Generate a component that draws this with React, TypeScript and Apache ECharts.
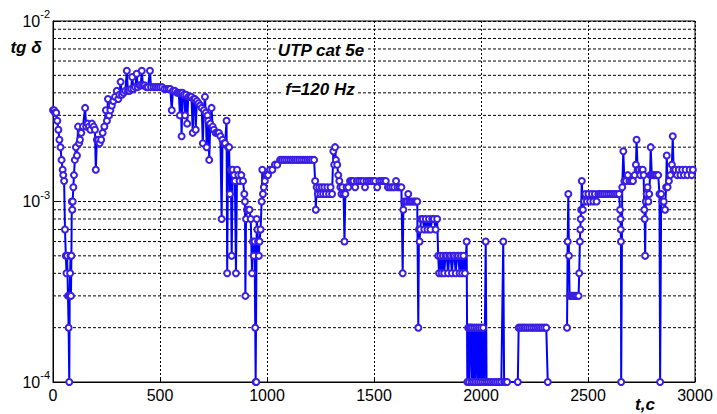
import React, { useEffect, useRef } from "react";
import * as echarts from "echarts";

const FONT = '"Liberation Sans", Arial, Helvetica, sans-serif';

// tg δ readings, [t in s, tg δ in units of 1e-3]
const segStart: number[][] = [
  [0, 3.2], [5, 3.2], [10, 3.1], [15, 3.1], [20, 2.8], [25, 2.5], [30, 2.2], [35, 2.0], [40, 1.7], [45, 1.5],
  [48, 1.4], [52, 1.3], [56, 0.7], [60, 0.5], [63, 0.4], [66, 0.5], [70, 0.3], [73, 0.2], [76, 0.1], [78, 0.3],
  [80, 0.4], [82, 0.5], [84, 0.3], [86, 0.5], [88, 1.0], [90, 0.9], [92, 1.0], [95, 1.2], [98, 1.4], [102, 1.7],
  [107, 2.0], [112, 1.8], [117, 2.6], [122, 2.1], [126, 2.2], [132, 2.4], [140, 2.6], [150, 3.3], [155, 2.6],
  [162, 2.7], [168, 2.6], [175, 2.5], [182, 2.7], [190, 2.6], [196, 2.5], [200, 1.5],
];

const segPeak: number[][] = [
  [205, 2.2], [212, 2.2], [218, 2.1], [225, 2.2], [232, 2.4], [240, 2.6], [247, 3.2], [252, 2.8], [257, 3.7],
  [262, 3.0], [268, 3.2], [275, 3.4], [282, 3.6], [290, 3.8], [298, 4.1], [305, 3.7], [310, 3.9], [316, 4.6],
  [322, 3.9], [330, 4.0], [338, 4.1], [345, 5.3], [350, 4.1], [358, 4.1], [365, 4.2], [370, 4.9], [376, 4.2],
  [384, 4.3], [391, 5.1], [396, 4.3], [404, 4.4], [410, 4.4], [415, 5.3], [420, 4.4], [428, 4.4], [436, 4.3],
  [444, 4.3], [453, 5.3], [458, 4.3], [470, 4.3], [480, 4.3], [490, 4.3], [500, 4.3], [510, 4.3], [520, 4.2],
  [530, 4.2], [540, 4.2], [548, 4.2],
];

const segFall: number[][] = [
  [555, 3.2], [560, 4.1], [570, 4.1], [580, 4.0], [588, 4.0], [593, 3.0], [597, 4.0], [601, 2.3], [605, 4.0],
  [612, 3.9], [617, 3.0], [622, 3.9], [627, 2.7], [632, 3.8], [640, 3.8], [647, 3.8], [653, 2.4], [657, 3.7],
  [663, 3.7], [667, 2.5], [672, 3.6], [680, 3.5], [688, 3.4], [695, 3.3], [700, 2.1], [705, 3.2], [710, 3.8],
  [714, 3.1], [718, 2.0], [722, 3.0], [726, 2.8], [730, 1.7], [735, 2.7], [741, 3.3], [746, 2.6], [752, 2.5],
  [760, 2.4], [768, 2.4], [775, 2.4], [782, 2.3], [788, 0.8], [792, 2.2], [798, 2.1], [804, 2.1], [811, 2.8],
  [814, 0.4], [818, 2.0], [823, 2.0], [827, 1.1], [831, 1.5], [835, 0.5], [840, 1.5], [846, 1.4], [850, 1.3],
  [855, 0.4], [860, 1.5], [866, 1.4], [872, 1.3], [880, 1.4], [888, 1.3], [894, 1.1], [897, 1.0], [899, 0.3],
  [902, 0.8], [906, 0.9], [912, 0.9], [918, 0.9], [924, 0.8], [930, 0.4], [934, 0.6], [938, 0.5], [942, 0.6],
  [945, 0.2], [947, 0.1], [950, 0.1], [952, 0.8], [955, 0.7], [958, 0.6], [962, 0.5], [965, 0.6], [970, 0.7],
  [975, 1.0], [978, 1.5], [981, 1.1], [985, 1.2], [990, 1.3], [998, 1.4],
];

const segPlateau: number[][] = [
  [1005, 1.4], [1014, 1.5], [1025, 1.5], [1037, 1.6], [1048, 1.6], [1061, 1.7], [1070, 1.7], [1080, 1.7],
  [1090, 1.7], [1100, 1.7], [1110, 1.7], [1120, 1.7], [1130, 1.7], [1140, 1.7], [1150, 1.7], [1160, 1.7],
  [1170, 1.7], [1180, 1.7], [1190, 1.7], [1200, 1.7], [1210, 1.7], [1220, 1.7], [1225, 1.3], [1228, 0.9],
  [1232, 1.2], [1238, 1.1], [1244, 1.2], [1250, 1.1], [1256, 1.2], [1262, 1.1], [1268, 1.2], [1275, 1.1],
  [1282, 1.2], [1290, 1.1], [1297, 1.2], [1304, 1.1], [1310, 1.9], [1314, 1.6], [1318, 2.0], [1322, 1.7],
  [1328, 1.6], [1333, 1.4], [1338, 1.3], [1343, 1.2], [1348, 1.1], [1352, 1.2], [1358, 1.1], [1362, 0.6],
  [1366, 1.1], [1372, 1.2], [1380, 1.2], [1388, 1.3], [1396, 1.3], [1404, 1.3], [1412, 1.2], [1420, 1.3],
  [1430, 1.3], [1440, 1.3], [1450, 1.3], [1458, 1.2], [1465, 1.3], [1475, 1.3], [1485, 1.3], [1495, 1.3],
  [1505, 1.3], [1515, 1.2], [1525, 1.3], [1535, 1.3], [1545, 1.3], [1555, 1.3], [1565, 1.2], [1575, 1.2],
  [1585, 1.2], [1595, 1.2], [1603, 1.3], [1610, 1.2], [1620, 1.2], [1628, 1.2],
];

const segLow: number[][] = [
  [1634, 0.4], [1637, 0.9], [1641, 1.0], [1648, 1.0], [1655, 1.0], [1660, 1.1], [1665, 1.0], [1672, 1.0],
  [1680, 1.0], [1688, 1.0], [1695, 1.0], [1702, 1.0], [1707, 0.2], [1710, 0.7], [1713, 0.6], [1716, 0.7],
  [1720, 0.8], [1728, 0.8], [1735, 0.7], [1742, 0.8], [1750, 0.7], [1757, 0.8], [1764, 0.7], [1772, 0.8],
  [1780, 0.8], [1788, 0.7], [1795, 0.8], [1800, 0.5], [1804, 0.4], [1810, 0.5], [1816, 0.4], [1822, 0.5],
  [1828, 0.4], [1834, 0.5], [1840, 0.5], [1846, 0.4], [1852, 0.5], [1858, 0.5], [1864, 0.4], [1870, 0.5],
  [1876, 0.5], [1882, 0.4], [1888, 0.5], [1894, 0.5], [1900, 0.4], [1906, 0.5], [1912, 0.4], [1918, 0.5],
  [1925, 0.4], [1933, 0.6], [1936, 0.1], [1940, 0.2], [1944, 0.1], [1948, 0.2], [1952, 0.2], [1956, 0.1],
  [1960, 0.2], [1965, 0.1], [1970, 0.2], [1975, 0.1], [1980, 0.2], [1986, 0.1], [1990, 0.2], [1996, 0.1],
  [2000, 0.2], [2006, 0.1], [2010, 0.2], [2016, 0.1], [2022, 0.6], [2026, 0.1], [2035, 0.1], [2045, 0.1],
  [2055, 0.1], [2065, 0.1], [2075, 0.1], [2085, 0.1], [2095, 0.1], [2104, 0.6], [2108, 0.1], [2115, 0.1],
  [2122, 0.1], [2172, 0.1], [2176, 0.2], [2185, 0.2], [2195, 0.2], [2205, 0.2], [2215, 0.2], [2225, 0.2],
  [2235, 0.2], [2245, 0.2], [2255, 0.2], [2265, 0.2], [2275, 0.2], [2285, 0.2], [2295, 0.2], [2305, 0.2],
  [2312, 0.1],
];

const segEnd: number[][] = [
  [2402, 0.2], [2405, 0.6], [2408, 1.1], [2411, 0.5], [2414, 0.3], [2420, 0.3], [2426, 0.3], [2432, 0.3],
  [2438, 0.3], [2444, 0.3], [2450, 0.3], [2456, 0.3], [2459, 0.4], [2462, 0.6], [2464, 0.7], [2466, 0.8],
  [2468, 0.9], [2471, 1.3], [2476, 0.9], [2482, 1.0], [2488, 1.1], [2495, 1.0], [2502, 1.1], [2510, 1.0],
  [2518, 1.1], [2525, 1.0], [2532, 1.1], [2540, 1.0], [2548, 1.1], [2556, 1.1], [2565, 1.1], [2575, 1.1],
  [2585, 1.1], [2595, 1.1], [2605, 1.1], [2615, 1.1], [2625, 1.1], [2635, 1.1], [2645, 1.1], [2650, 0.9],
  [2652, 0.8], [2653, 0.7], [2654, 0.6], [2655, 0.1], [2660, 1.2], [2665, 1.9], [2670, 1.3], [2678, 1.3],
  [2686, 1.4], [2694, 1.3], [2702, 1.3], [2710, 1.3], [2718, 1.4], [2724, 1.6], [2727, 2.2], [2732, 1.5],
  [2738, 1.5], [2744, 1.4], [2750, 1.5], [2756, 1.5], [2760, 1.4], [2763, 0.9], [2765, 0.8], [2767, 0.5],
  [2770, 1.0], [2774, 1.1], [2778, 1.2], [2782, 1.0], [2786, 1.1], [2790, 1.4], [2793, 2.0], [2798, 1.4],
  [2805, 1.4], [2812, 1.4], [2820, 1.4], [2828, 1.4], [2834, 1.1], [2837, 0.1], [2842, 1.1], [2848, 1.0],
  [2854, 1.0], [2860, 0.9], [2865, 1.2], [2868, 1.8], [2872, 1.2], [2878, 1.3], [2885, 1.4], [2892, 1.6],
  [2896, 2.3], [2900, 1.5], [2908, 1.5], [2916, 1.4], [2924, 1.5], [2932, 1.4], [2940, 1.5], [2948, 1.4],
  [2956, 1.5], [2965, 1.4], [2975, 1.5], [2985, 1.4], [2990, 1.5],
];

// minor log grid lines (2..9 per decade)
const yMinorGrid: number[] = [
  0.0002, 0.0003, 0.0004, 0.0005, 0.0006, 0.0007, 0.0008, 0.0009,
  0.002, 0.003, 0.004, 0.005, 0.006, 0.007, 0.008, 0.009,
];

const X_MIN = 0;
const X_MAX = 3000;

const toPoints = (seg: number[][]) => seg.map(([t, v]) => [t, v / 1000]);

export default function App() {
  const ref = useRef<HTMLDivElement>(null);
  useEffect(() => {
    if (!ref.current) return;
    const chart = echarts.init(ref.current, null, { renderer: "svg" });
    const data: any[] = [
      ...toPoints(segStart),
      ...toPoints(segPeak),
      ...toPoints(segFall),
      ...toPoints(segPlateau),
      ...toPoints(segLow),
      "-",
      ...toPoints(segEnd),
    ];
    const gridSeries = yMinorGrid.map((v) => ({
      type: "line",
      data: [[X_MIN, v], [X_MAX, v]],
      z: 1,
      silent: true,
      symbol: "none",
      showSymbol: false,
      lineStyle: { color: "#000", type: [3, 2], width: 1 },
      emphasis: { disabled: true },
      tooltip: { show: false },
    }));
    chart.setOption({
      animation: false,
      backgroundColor: "#fff",
      textStyle: { fontFamily: FONT },
      grid: {
        left: 53,
        right: 22,
        top: 21,
        bottom: 32,
        show: true,
        borderColor: "#000",
        borderWidth: 1,
        backgroundColor: "#fff",
      },
      xAxis: {
        type: "value",
        min: X_MIN,
        max: X_MAX,
        interval: 500,
        axisLine: { show: true, onZero: false, lineStyle: { color: "#000", width: 1 } },
        axisTick: { show: true, inside: true, length: 5, lineStyle: { color: "#000" } },
        axisLabel: {
          color: "#000",
          fontSize: 16,
          fontFamily: FONT,
          margin: 5,
          formatter: (v: number) => String(v),
        },
        splitLine: { show: true, lineStyle: { color: "#000", type: [2, 2], width: 1 } },
      },
      yAxis: {
        type: "log",
        logBase: 10,
        min: 0.0001,
        max: 0.01,
        axisLine: { show: true, lineStyle: { color: "#000", width: 1 } },
        axisTick: { show: true, inside: true, length: 5, lineStyle: { color: "#000" } },
        axisLabel: {
          color: "#000",
          margin: 3,
          formatter: (v: number) => `{a|10}{b|${Math.round(Math.log10(v))}}`,
          rich: {
            a: { fontSize: 16, fontFamily: FONT, color: "#000", lineHeight: 16 },
            b: { fontSize: 11, fontFamily: FONT, color: "#000", lineHeight: 11, padding: [0, 0, 14, 0] },
          },
        },
        splitLine: { show: true, lineStyle: { color: "#000", type: [3, 2], width: 1 } },
      },
      series: [
        ...gridSeries,
        {
          type: "line",
          data,
          z: 3,
          connectNulls: false,
          symbol: "emptyCircle",
          symbolSize: 6,
          showSymbol: true,
          showAllSymbol: true,
          lineStyle: { color: "#0000ff", width: 2 },
          itemStyle: { color: "#3a1ee6", borderWidth: 1.4 },
        },
      ],
      graphic: [
        {
          type: "text",
          z: 100,
          x: 321,
          y: 50,
          style: {
            text: "UTP cat 5e",
            font: `italic bold 17px ${FONT}`,
            fill: "#000",
            align: "center",
            verticalAlign: "middle",
            backgroundColor: "#fff",
            padding: [1, 2],
          },
        },
        {
          type: "text",
          z: 100,
          x: 320,
          y: 89,
          style: {
            text: "f=120 Hz",
            font: `italic bold 17px ${FONT}`,
            fill: "#000",
            align: "center",
            verticalAlign: "middle",
            backgroundColor: "#fff",
            padding: [1, 2],
          },
        },
        {
          type: "text",
          z: 100,
          x: 26,
          y: 47,
          style: {
            text: "tg δ",
            font: `italic bold 17px ${FONT}`,
            fill: "#000",
            align: "center",
            verticalAlign: "middle",
          },
        },
        {
          type: "text",
          z: 100,
          x: 645,
          y: 404,
          style: {
            text: "t,c",
            font: `italic bold 17px ${FONT}`,
            fill: "#000",
            align: "center",
            verticalAlign: "middle",
          },
        },
      ],
    });
    return () => chart.dispose();
  }, []);
  return (
    <div
      ref={ref}
      style={{ position: "fixed", left: 0, top: 0, width: 717, height: 414 }}
    />
  );
}
